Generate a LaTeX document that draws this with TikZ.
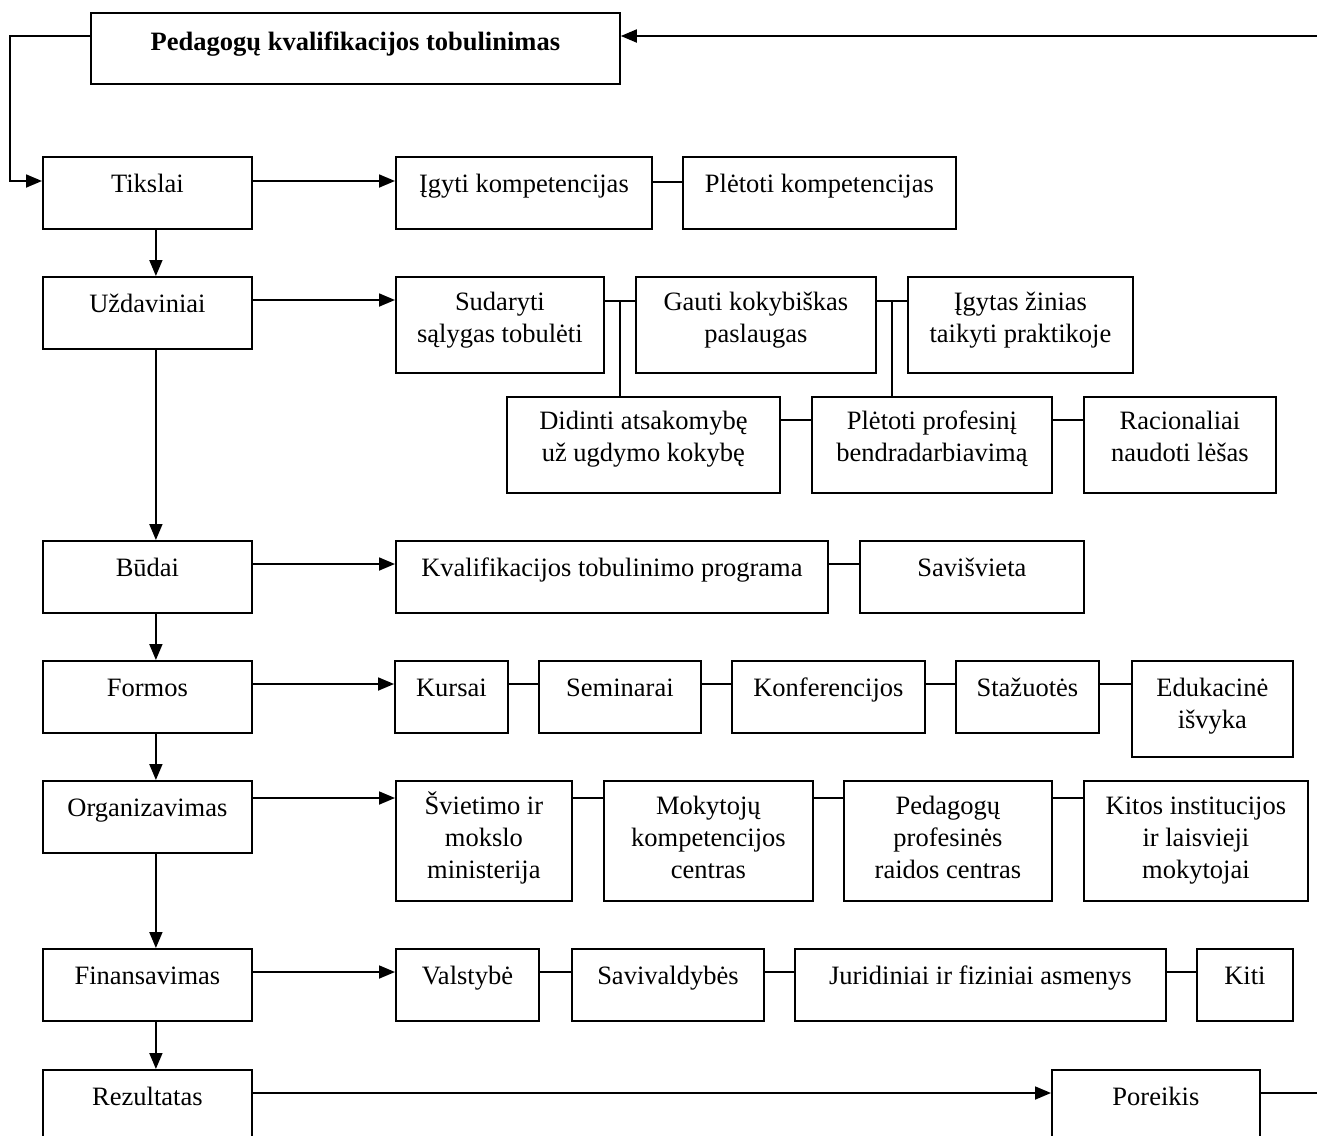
\documentclass[tikz,border=0pt]{standalone}
\usepackage{fontspec}
\setmainfont{Liberation Serif}
\usetikzlibrary{arrows.meta,calc}
\tikzset{
  box/.style={draw, line width=1.8pt, inner sep=0pt, anchor=north west},
  txt/.style={inner sep=0pt, align=center, font=\fontsize{26.5}{32}\selectfont},
  arr/.style={line width=1.8pt, -{Triangle[length=16pt,width=13pt]}},
  ln/.style={line width=1.8pt},
}
\newcommand\bx[7]{\node[box, minimum width=#4pt, minimum height=#5pt,
  label={[txt,anchor=north,yshift=-#7pt]north:{\strut #6}}] (#1) at (#2,#3) {};}
\begin{document}
\begin{tikzpicture}[x=1pt,y=-1pt]
\useasboundingbox (0,0) rectangle (1317,1135);
\clip (0,0) rectangle (1317,1135);
% title
\bx{title}{90}{12}{529}{71}{\bfseries Pedagogų kvalifikacijos tobulinimas}{15.6}
% left column
\bx{tik}{42}{156}{209}{72}{Tikslai}{13.6}
\bx{uzd}{42}{276}{209}{72}{Uždaviniai}{13.6}
\bx{bud}{42}{540}{209}{72}{Būdai}{13.6}
\bx{frm}{42}{660}{209}{72}{Formos}{13.6}
\bx{org}{42}{780}{209}{72}{Organizavimas}{13.6}
\bx{fin}{42}{948}{209}{72}{Finansavimas}{13.6}
\bx{rez}{42}{1069}{209}{100}{Rezultatas}{13.6}
% Tikslai row
\bx{igy}{395}{156}{256}{72}{Įgyti kompetencijas}{13.6}
\bx{ple}{682}{156}{273}{72}{Plėtoti kompetencijas}{13.6}
% Uzdaviniai rows
\bx{sud}{395}{276}{208}{96}{Sudaryti\\sąlygas tobulėti}{11.6}
\bx{gau}{635}{276}{240}{96}{Gauti kokybiškas\\paslaugas}{11.6}
\bx{igz}{907}{276}{225}{96}{Įgytas žinias\\taikyti praktikoje}{11.6}
\bx{did}{506}{396}{273}{96}{Didinti atsakomybę\\už ugdymo kokybę}{10.6}
\bx{plp}{811}{396}{240}{96}{Plėtoti profesinį\\bendradarbiavimą}{10.6}
\bx{rac}{1083}{396}{192}{96}{Racionaliai\\naudoti lėšas}{10.6}
% Budai row
\bx{kva}{395}{540}{432}{72}{Kvalifikacijos tobulinimo programa}{13.6}
\bx{sav}{859}{540}{224}{72}{Savišvieta}{13.6}
% Formos row
\bx{kur}{394}{660}{113}{72}{Kursai}{13.6}
\bx{sem}{538}{660}{162}{72}{Seminarai}{13.6}
\bx{kon}{731}{660}{193}{72}{Konferencijos}{13.6}
\bx{sta}{955}{660}{143}{72}{Stažuotės}{13.6}
\bx{edu}{1131}{660}{161}{96}{Edukacinė\\išvyka}{13.6}
% Organizavimas row
\bx{svi}{395}{780}{176}{120}{Švietimo ir\\mokslo\\ministerija}{11.6}
\bx{mok}{603}{780}{209}{120}{Mokytojų\\kompetencijos\\centras}{11.6}
\bx{ped}{843}{780}{208}{120}{Pedagogų\\profesinės\\raidos centras}{11.6}
\bx{kit}{1083}{780}{224}{120}{Kitos institucijos\\ir laisvieji\\mokytojai}{11.6}
% Finansavimas row
\bx{val}{395}{948}{143}{72}{Valstybė}{13.6}
\bx{sv}{571}{948}{192}{72}{Savivaldybės}{13.6}
\bx{jur}{794}{948}{371}{72}{Juridiniai ir fiziniai asmenys}{13.6}
\bx{kiti}{1196}{948}{96}{72}{Kiti}{13.6}
% Rezultatas row
\bx{por}{1051}{1069}{208}{100}{Poreikis}{13.6}

% feedback loop
\draw[arr] ([yshift=-24pt]title.north west) -- ++(-80,0) |- ([yshift=-25pt]tik.north west);
\coordinate (R1) at (1317,36);
\draw[arr] (R1) -- (R1 -| title.east);
\draw[ln] ([yshift=-24pt]por.north east) -- ++(70,0);

% vertical arrows
\foreach \a/\b in {tik/uzd, uzd/bud, bud/frm, frm/org, org/fin, fin/rez}
  \draw[arr] ([xshift=8.5pt]\a.south) -- ([xshift=8.5pt]\b.north);

% horizontal arrows
\foreach \a/\b/\d in {tik/igy/25, uzd/sud/24, bud/kva/24, frm/kur/24, org/svi/18, fin/val/24, rez/por/24}
  \draw[arr] ([yshift=-\d pt]\a.north east) -- ([yshift=-\d pt]\b.north west);

% plain links
\foreach \a/\b/\d in {igy/ple/26, sud/gau/25, gau/igz/25, did/plp/24, plp/rac/24,
  kva/sav/24, kur/sem/24, sem/kon/24, kon/sta/24, sta/edu/24,
  svi/mok/18, mok/ped/18, ped/kit/18, val/sv/24, sv/jur/24, jur/kiti/24}
  \draw[ln] ([yshift=-\d pt]\a.north east) -- ([yshift=-\d pt]\b.north west);

% junctions down
\coordinate (j1) at ($(sud.north east)!.5!(gau.north west)+(0,25)$);
\draw[ln] (j1) -- (j1 |- did.north);
\coordinate (j2) at ($(gau.north east)!.5!(igz.north west)+(0,25)$);
\draw[ln] (j2) -- (j2 |- plp.north);
\end{tikzpicture}
\end{document}
